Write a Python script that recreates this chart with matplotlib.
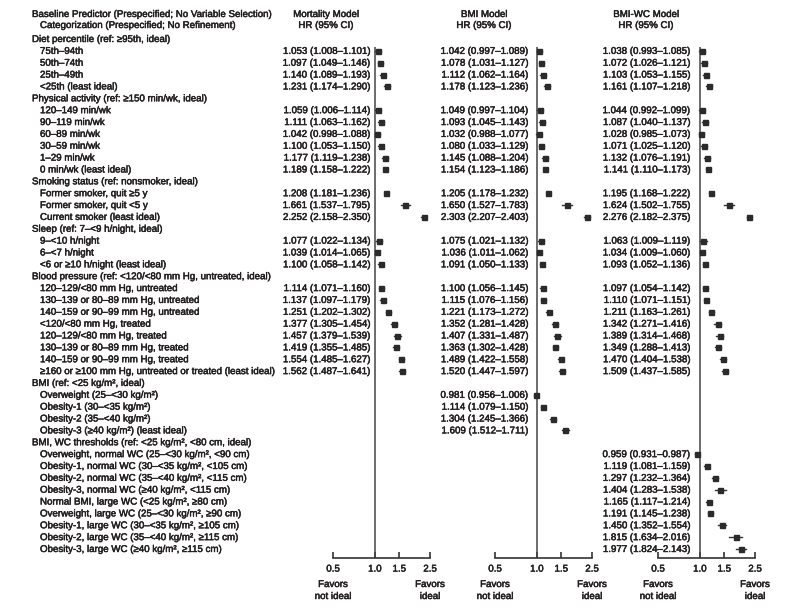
import matplotlib.pyplot as plt
import matplotlib.patheffects as pe
import numpy as np

plt.rcParams['font.family'] = ['Liberation Sans', 'DejaVu Sans']
plt.rcParams['font.size'] = 7

# row labels (headers flagged in is_header)
row_labels = [
    "Diet percentile (ref: ≥95th, ideal)",
    "75th–94th", "50th–74th", "25th–49th", "<25th (least ideal)",
    "Physical activity (ref: ≥150 min/wk, ideal)",
    "120–149 min/wk", "90–119 min/wk", "60–89 min/wk", "30–59 min/wk",
    "1–29 min/wk", "0 min/wk (least ideal)",
    "Smoking status (ref: nonsmoker, ideal)",
    "Former smoker, quit ≥5 y", "Former smoker, quit <5 y", "Current smoker (least ideal)",
    "Sleep (ref: 7–<9 h/night, ideal)",
    "9–<10 h/night", "6–<7 h/night", "<6 or ≥10 h/night (least ideal)",
    "Blood pressure (ref: <120/<80 mm Hg, untreated, ideal)",
    "120–129/<80 mm Hg, untreated", "130–139 or 80–89 mm Hg, untreated",
    "140–159 or 90–99 mm Hg, untreated", "<120/<80 mm Hg, treated",
    "120–129/<80 mm Hg, treated", "130–139 or 80–89 mm Hg, treated",
    "140–159 or 90–99 mm Hg, treated",
    "≥160 or ≥100 mm Hg, untreated or treated (least ideal)",
    "BMI (ref: <25 kg/m², ideal)",
    "Overweight (25–<30 kg/m²)", "Obesity-1 (30–<35 kg/m²)",
    "Obesity-2 (35–<40 kg/m²)", "Obesity-3 (≥40 kg/m²) (least ideal)",
    "BMI, WC thresholds (ref: <25 kg/m², <80 cm, ideal)",
    "Overweight, normal WC (25–<30 kg/m², <90 cm)",
    "Obesity-1, normal WC (30–<35 kg/m², <105 cm)",
    "Obesity-2, normal WC (35–<40 kg/m², <115 cm)",
    "Obesity-3, normal WC (≥40 kg/m², <115 cm)",
    "Normal BMI, large WC (<25 kg/m², ≥80 cm)",
    "Overweight, large WC (25–<30 kg/m², ≥90 cm)",
    "Obesity-1, large WC (30–<35 kg/m², ≥105 cm)",
    "Obesity-2, large WC (35–<40 kg/m², ≥115 cm)",
    "Obesity-3, large WC (≥40 kg/m², ≥115 cm)",
]
is_header = [l.split(" (ref")[0] != l for l in row_labels]

N = None
mort_hr = [N, 1.053, 1.097, 1.140, 1.231,
           N, 1.059, 1.111, 1.042, 1.100, 1.177, 1.189,
           N, 1.208, 1.661, 2.252,
           N, 1.077, 1.039, 1.100,
           N, 1.114, 1.137, 1.251, 1.377, 1.457, 1.419, 1.554, 1.562,
           N, N, N, N, N,
           N, N, N, N, N, N, N, N, N, N]
mort_lo = [N, 1.008, 1.049, 1.089, 1.174,
           N, 1.006, 1.063, 0.998, 1.053, 1.119, 1.158,
           N, 1.181, 1.537, 2.158,
           N, 1.022, 1.014, 1.058,
           N, 1.071, 1.097, 1.202, 1.305, 1.379, 1.355, 1.485, 1.487,
           N, N, N, N, N,
           N, N, N, N, N, N, N, N, N, N]
mort_hi = [N, 1.101, 1.146, 1.193, 1.290,
           N, 1.114, 1.162, 1.088, 1.150, 1.238, 1.222,
           N, 1.236, 1.795, 2.350,
           N, 1.134, 1.065, 1.142,
           N, 1.160, 1.179, 1.302, 1.454, 1.539, 1.485, 1.627, 1.641,
           N, N, N, N, N,
           N, N, N, N, N, N, N, N, N, N]

bmi_hr = [N, 1.042, 1.078, 1.112, 1.178,
          N, 1.049, 1.093, 1.032, 1.080, 1.145, 1.154,
          N, 1.205, 1.650, 2.303,
          N, 1.075, 1.036, 1.091,
          N, 1.100, 1.115, 1.221, 1.352, 1.407, 1.363, 1.489, 1.520,
          N, 0.981, 1.114, 1.304, 1.609,
          N, N, N, N, N, N, N, N, N, N]
bmi_lo = [N, 0.997, 1.031, 1.062, 1.123,
          N, 0.997, 1.045, 0.988, 1.033, 1.088, 1.123,
          N, 1.178, 1.527, 2.207,
          N, 1.021, 1.011, 1.050,
          N, 1.056, 1.076, 1.173, 1.281, 1.331, 1.302, 1.422, 1.447,
          N, 0.956, 1.079, 1.245, 1.512,
          N, N, N, N, N, N, N, N, N, N]
bmi_hi = [N, 1.089, 1.127, 1.164, 1.236,
          N, 1.104, 1.143, 1.077, 1.129, 1.204, 1.186,
          N, 1.232, 1.783, 2.403,
          N, 1.132, 1.062, 1.133,
          N, 1.145, 1.156, 1.272, 1.428, 1.487, 1.428, 1.558, 1.597,
          N, 1.006, 1.150, 1.366, 1.711,
          N, N, N, N, N, N, N, N, N, N]

wc_hr = [N, 1.038, 1.072, 1.103, 1.161,
         N, 1.044, 1.087, 1.028, 1.071, 1.132, 1.141,
         N, 1.195, 1.624, 2.276,
         N, 1.063, 1.034, 1.093,
         N, 1.097, 1.110, 1.211, 1.342, 1.389, 1.349, 1.470, 1.509,
         N, N, N, N, N,
         N, 0.959, 1.119, 1.297, 1.404, 1.165, 1.191, 1.450, 1.815, 1.977]
wc_lo = [N, 0.993, 1.026, 1.053, 1.107,
         N, 0.992, 1.040, 0.985, 1.025, 1.076, 1.110,
         N, 1.168, 1.502, 2.182,
         N, 1.009, 1.009, 1.052,
         N, 1.054, 1.071, 1.163, 1.271, 1.314, 1.288, 1.404, 1.437,
         N, N, N, N, N,
         N, 0.931, 1.081, 1.232, 1.283, 1.117, 1.145, 1.352, 1.634, 1.824]
wc_hi = [N, 1.085, 1.121, 1.155, 1.218,
         N, 1.099, 1.137, 1.073, 1.120, 1.191, 1.173,
         N, 1.222, 1.755, 2.375,
         N, 1.119, 1.060, 1.136,
         N, 1.142, 1.151, 1.261, 1.416, 1.468, 1.413, 1.538, 1.585,
         N, N, N, N, N,
         N, 0.987, 1.159, 1.364, 1.538, 1.214, 1.238, 1.554, 2.016, 2.143]

ticks = [0.5, 1.0, 1.5, 2.5]
tick_labels = ["0.5", "1.0", "1.5", "2.5"]

ink = '#231f20'
W, H = 805, 609
fig = plt.figure(figsize=(W / 100, H / 100), dpi=100)
bg = fig.add_axes([0, 0, 1, 1])
bg.set_xlim(0, W)
bg.set_ylim(H, 0)
bg.axis('off')
fx = [pe.withStroke(linewidth=0.35, foreground=ink)]

def txt(x, y, s, **kw):
    bg.text(x, y, s, color=ink, va='center', path_effects=fx, **kw)

row_y = [39 + i * 11.86 for i in range(len(row_labels))]

txt(32, 14, "Baseline Predictor (Prespecified; No Variable Selection)")
txt(40, 25, "Categorization (Prespecified; No Refinement)")
for lab, hd, y in zip(row_labels, is_header, row_y):
    txt(32 if hd else 40, y, lab)

axis_y = 558
panels = [
    ("Mortality Model", 326, 370, (333, 430), mort_hr, mort_lo, mort_hi),
    ("BMI Model", 484, 528, (495, 592), bmi_hr, bmi_lo, bmi_hi),
    ("BMI-WC Model", 646, 690, (658, 755), wc_hr, wc_lo, wc_hi),
]

for title, cx, tx, (x0, x1), hr, lo, hi in panels:
    txt(cx, 14, title, ha='center')
    txt(cx, 25, "HR (95% CI)", ha='center')
    ax = fig.add_axes([x0 / W, 1 - axis_y / H, (x1 - x0) / W, (axis_y - 30) / H])
    ax.set_xscale('log')
    ax.set_xlim(0.5, 2.5)
    ax.set_ylim(axis_y, 30)
    ax.patch.set_visible(False)
    for s in ['top', 'right', 'left']:
        ax.spines[s].set_visible(False)
    ax.spines['bottom'].set_color('#333333')
    ax.spines['bottom'].set_linewidth(1.2)
    ax.set_yticks([])
    ax.set_xticks(ticks, tick_labels)
    ax.set_xticks([], minor=True)
    ax.tick_params(axis='x', direction='in', length=4, width=1.2, pad=4,
                   colors='#333333', labelcolor=ink, labelsize=7)
    for lbl in ax.get_xticklabels():
        lbl.set_path_effects(fx)
    ax.vlines(1.0, 47, axis_y, color='#444444', lw=1.1)
    for y, h, l, u in zip(row_y, hr, lo, hi):
        if h is None:
            continue
        txt(tx, y, f"{h:.3f} ({l:.3f}–{u:.3f})", ha='right')
        ax.plot([l, u], [y, y], color='#333333', lw=1, clip_on=False)
        ax.plot(h, y, 's', color='#2b2b2b', ms=3.6, mec='#2b2b2b', clip_on=False)
    for xv, s in [(0.5, "Favors\nnot ideal"), (2.5, "Favors\nideal")]:
        ax.text(xv, 590, s, ha='center', va='center', color=ink, fontsize=7,
                linespacing=1.25, path_effects=fx, clip_on=False)

fig.savefig('out.png', dpi=100)
